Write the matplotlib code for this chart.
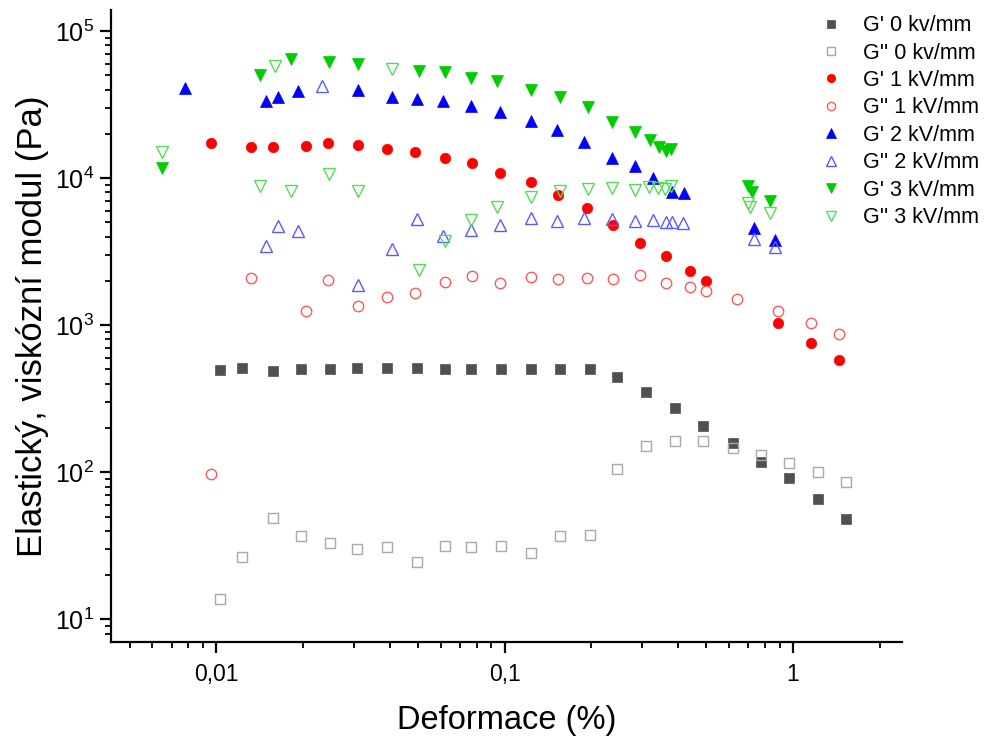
import math
import matplotlib
matplotlib.use("Agg")
import matplotlib.pyplot as plt
from matplotlib.ticker import LogLocator, FixedLocator, FuncFormatter, NullFormatter

plt.rcParams['font.family'] = ['Liberation Sans', 'DejaVu Sans']
plt.rcParams['mathtext.fontset'] = 'custom'
plt.rcParams['mathtext.rm'] = 'Liberation Sans'
plt.rcParams['mathtext.it'] = 'Liberation Sans:italic'

# ---- data (strain %, modulus Pa) ----
g0p_x = [0.0103, 0.0123, 0.0157, 0.0196, 0.0247, 0.0307, 0.0390, 0.0496, 0.0621, 0.0765, 0.0973,
         0.123, 0.155, 0.197, 0.246, 0.310, 0.389, 0.487, 0.619, 0.776, 0.971, 1.22, 1.53]
g0p_y = [497, 512, 489, 500, 500, 510, 512, 512, 502, 504, 502,
         502, 500, 500, 445, 354, 274, 206, 158, 117, 92, 65.8, 48.1]

g0pp_x = g0p_x
g0pp_y = [13.7, 26.4, 48.6, 37.1, 33.0, 30.1, 31.0, 24.7, 31.7, 30.9, 31.4,
          28.4, 36.6, 37.7, 105, 151, 163, 162, 147, 132, 115, 101, 86.4]

g1p_x = [0.0096, 0.0132, 0.0157, 0.0204, 0.0243, 0.0310, 0.0390, 0.0490, 0.0620, 0.0770, 0.0960,
         0.123, 0.153, 0.193, 0.238, 0.295, 0.363, 0.440, 0.500, 0.890, 1.16, 1.45]
g1p_y = [17400, 16400, 16400, 16500, 17400, 16900, 15700, 15000, 13600, 12600, 10900,
         9350, 7700, 6220, 4790, 3630, 2950, 2330, 1990, 1040, 751, 581]

g1pp_x = [0.0096, 0.0132, 0.0204, 0.0243, 0.0310, 0.0390, 0.0490, 0.0620, 0.0770, 0.0960, 0.123,
          0.153, 0.193, 0.238, 0.295, 0.363, 0.440, 0.500, 0.640, 0.890, 1.16, 1.45]
g1pp_y = [98, 2090, 1245, 2020, 1353, 1567, 1668, 1971, 2165, 1940, 2131,
          2046, 2078, 2046, 2178, 1922, 1814, 1712, 1503, 1240, 1032, 869]

g2p_x = [0.0078, 0.0149, 0.0163, 0.0192, 0.0309, 0.0406, 0.0497, 0.0612, 0.0763, 0.0962,
         0.123, 0.152, 0.189, 0.235, 0.284, 0.327, 0.380, 0.418, 0.73, 0.87]
g2p_y = [40700, 33400, 35700, 38900, 39700, 35700, 34500, 33400, 30900, 28300,
         24300, 21400, 17700, 13600, 12100, 9950, 8000, 7870, 4590, 3790]

g2pp_x = [0.0149, 0.0163, 0.0192, 0.0233, 0.0309, 0.0406, 0.0497, 0.0612, 0.0763, 0.0962,
          0.123, 0.152, 0.189, 0.235, 0.284, 0.327, 0.364, 0.380, 0.417, 0.73, 0.87]
g2pp_y = [3480, 4710, 4380, 42100, 1890, 3300, 5260, 4030, 4450, 4810,
          5340, 5100, 5340, 5280, 5120, 5180, 5000, 5000, 4940, 3870, 3410]

g3p_x = [0.00648, 0.0142, 0.0182, 0.0246, 0.0310, 0.0503, 0.0621, 0.0766, 0.0944,
         0.123, 0.155, 0.194, 0.236, 0.284, 0.320, 0.343, 0.364, 0.378, 0.70, 0.72, 0.83]
g3p_y = [11800, 50200, 64800, 61300, 59600, 53700, 52400, 47700, 45700,
         40000, 35600, 30400, 24000, 20700, 18100, 16200, 15300, 15800, 8830, 8040, 7010]

g3pp_x = [0.00648, 0.0142, 0.0160, 0.0182, 0.0246, 0.0310, 0.0407, 0.0503, 0.0621, 0.0766, 0.0944,
          0.123, 0.155, 0.194, 0.236, 0.284, 0.316, 0.341, 0.361, 0.377, 0.70, 0.71, 0.83]
g3pp_y = [15100, 8790, 57500, 8160, 10700, 8200, 55100, 2370, 3740, 5180, 6320,
          7450, 8200, 8410, 8590, 8250, 8640, 8590, 8410, 8860, 6730, 6380, 5750]

labels = ["G' 0 kv/mm", "G'' 0 kv/mm", "G' 1 kV/mm", "G'' 1 kV/mm",
          "G' 2 kV/mm", "G'' 2 kV/mm", "G' 3 kV/mm", "G'' 3 kV/mm"]
xtick_vals = [0.01, 0.1, 1]
xtick_labels = ['0,01', '0,1', '1']

fig = plt.figure(figsize=(9.87, 7.42), dpi=100)
ax = fig.add_axes([111/987, 1 - 642/742, (902 - 111)/987, (642 - 10)/742])

series = [
    (g0p_x, g0p_y, 's', '#505050', True, 7),
    (g0pp_x, g0pp_y, 's', '#a8a8a8', False, 7),
    (g1p_x, g1p_y, 'o', '#ff0000', True, 7.5),
    (g1pp_x, g1pp_y, 'o', '#ff5a5a', False, 7.5),
    (g2p_x, g2p_y, '^', '#0000ff', True, 8.5),
    (g2pp_x, g2pp_y, '^', '#5a5aff', False, 8.5),
    (g3p_x, g3p_y, 'v', '#00cc00', True, 8.5),
    (g3pp_x, g3pp_y, 'v', '#55dd55', False, 8.5),
]
for (xs, ys, m, c, filled, ms), lab in zip(series, labels):
    if filled:
        ax.plot(xs, ys, linestyle='none', marker=m, ms=ms, color=c,
                markeredgecolor=c, markeredgewidth=0.5, label=lab)
    else:
        ax.plot(xs, ys, linestyle='none', marker=m, ms=ms, markerfacecolor='none',
                markeredgecolor=c, markeredgewidth=1.0, label=lab)

ax.set_xscale('log')
ax.set_yscale('log')
ax.set_xlim(0.00431, 2.39)
ax.set_ylim(10**0.846, 10**5.143)

ax.xaxis.set_major_locator(FixedLocator(xtick_vals))
ax.set_xticklabels(xtick_labels)
ax.xaxis.set_minor_locator(LogLocator(base=10, subs=range(2, 10), numticks=20))
ax.xaxis.set_minor_formatter(NullFormatter())

ax.yaxis.set_major_locator(FixedLocator([10, 100, 1000, 10000, 100000]))
ax.yaxis.set_major_formatter(FuncFormatter(lambda v, p: r'$\mathregular{10^{%d}}$' % round(math.log10(v))))
ax.yaxis.set_minor_locator(LogLocator(base=10, subs=range(2, 10), numticks=20))
ax.yaxis.set_minor_formatter(NullFormatter())

for s in ['top', 'right']:
    ax.spines[s].set_visible(False)
for s in ['left', 'bottom']:
    ax.spines[s].set_linewidth(1.6)

ax.tick_params(axis='both', which='major', direction='out', length=8, width=1.6, pad=4)
ax.tick_params(axis='both', which='minor', direction='out', length=4.5, width=1.3)
ax.tick_params(axis='x', which='major', pad=7, labelsize=16.5)
ax.tick_params(axis='y', which='major', labelsize=18)

ax.set_xlabel('Deformace (%)', fontsize=23.5, labelpad=14)
ax.set_ylabel('Elastický, viskózní modul (Pa)', fontsize=25, labelpad=4)

leg = ax.legend(loc='upper right', bbox_to_anchor=(1.007, 1.0), bbox_transform=fig.transFigure,
                frameon=False, fontsize=15.5, handlelength=1.0, handletextpad=0.95,
                labelspacing=0.30, borderaxespad=0.3, markerscale=0.8)

fig.savefig('out.png', dpi=100)
